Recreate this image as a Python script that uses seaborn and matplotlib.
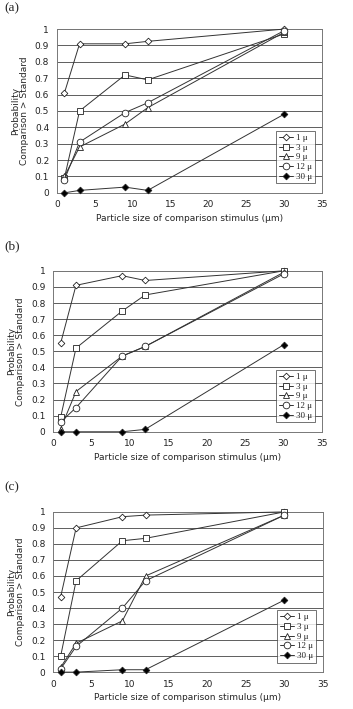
import numpy as np
import pandas as pd
import matplotlib
matplotlib.use("Agg")
import matplotlib.pyplot as plt
import seaborn as sns

# Datos
tamanos = [1, 3, 9, 12, 30]
series = ["1 μ", "3 μ", "9 μ", "12 μ", "30 μ"]

panel_a = {
    "1 μ": [0.61, 0.91, 0.91, 0.925, 1.0],
    "3 μ": [0.09, 0.50, 0.72, 0.69, 0.97],
    "9 μ": [0.10, 0.28, 0.42, 0.52, 0.98],
    "12 μ": [0.08, 0.31, 0.49, 0.55, 0.99],
    "30 μ": [0.0, 0.015, 0.035, 0.015, 0.48],
}
panel_b = {
    "1 μ": [0.55, 0.91, 0.97, 0.94, 1.0],
    "3 μ": [0.09, 0.52, 0.75, 0.85, 1.0],
    "9 μ": [0.02, 0.25, 0.47, 0.53, 0.99],
    "12 μ": [0.06, 0.15, 0.47, 0.53, 0.98],
    "30 μ": [0.0, 0.0, 0.0, 0.015, 0.54],
}
panel_c = {
    "1 μ": [0.47, 0.90, 0.97, 0.98, 1.0],
    "3 μ": [0.10, 0.57, 0.82, 0.835, 1.0],
    "9 μ": [0.03, 0.18, 0.32, 0.60, 0.98],
    "12 μ": [0.02, 0.16, 0.40, 0.57, 0.98],
    "30 μ": [0.0, 0.0, 0.015, 0.015, 0.45],
}
paneles = [("(a)", panel_a), ("(b)", panel_b), ("(c)", panel_c)]

marcadores = {"1 μ": "D", "3 μ": "s", "9 μ": "^", "12 μ": "o", "30 μ": "D"}
tam_marcador = {"1 μ": 3.4, "3 μ": 4.6, "9 μ": 4.6, "12 μ": 4.8, "30 μ": 3.4}
relleno = {"1 μ": "white", "3 μ": "white", "9 μ": "white", "12 μ": "white", "30 μ": "black"}

sns.set_style("white")
plt.rcParams["font.family"] = ["DejaVu Sans"]

fig = plt.figure(figsize=(3.53, 7.09), dpi=100)

# posiciones de cada panel [izq, abajo, ancho, alto]
posiciones = [
    [0.161, 0.728, 0.751, 0.231],
    [0.150, 0.391, 0.762, 0.227],
    [0.150, 0.052, 0.765, 0.226],
]
etiquetas_y = [0.989, 0.653, 0.313]

for (letra, datos), pos, ly in zip(paneles, posiciones, etiquetas_y):
    ax = fig.add_axes(pos)
    for s in series:
        df = pd.DataFrame({"x": tamanos, "y": datos[s]})
        sns.lineplot(data=df, x="x", y="y", ax=ax, color="#333333", lw=0.7,
                     marker=marcadores[s], markersize=tam_marcador[s],
                     markerfacecolor=relleno[s], markeredgecolor="#222222",
                     markeredgewidth=0.6, label=s, zorder=3, clip_on=False)
    ax.set_xlim(0, 35)
    ax.set_ylim(0, 1)
    ax.set_xticks(np.arange(0, 36, 5))
    ax.set_yticks(np.arange(0, 1.01, 0.1))
    ax.set_yticklabels([f"{v:g}" for v in np.round(np.arange(0, 1.01, 0.1), 1)])
    ax.yaxis.grid(True, color="#444444", lw=0.6)
    ax.xaxis.grid(False)
    for sp in ax.spines.values():
        sp.set_color("#777777")
        sp.set_linewidth(0.7)
    ax.tick_params(axis="both", labelsize=6.5, length=2.5, width=0.6,
                   direction="out", pad=3, colors="#222222")
    ax.set_xlabel("Particle size of comparison stimulus (μm)", fontsize=6.5, labelpad=3)
    ax.set_ylabel("Probability\nComparison > Standard", fontsize=6.5, labelpad=4,
                  linespacing=1.0)
    leg = ax.legend(loc="lower right", bbox_to_anchor=(0.99, 0.03),
                    frameon=True, fancybox=False, edgecolor="#333333",
                    handlelength=1.6, handletextpad=0.3, labelspacing=0.15,
                    borderpad=0.3, prop={"family": "Liberation Serif", "size": 6.5})
    leg.get_frame().set_linewidth(0.6)
    leg.set_zorder(5)
    fig.text(0.012, ly, letra, fontsize=9.5, family="Liberation Serif", va="center")

fig.savefig("out.png", dpi=100)
